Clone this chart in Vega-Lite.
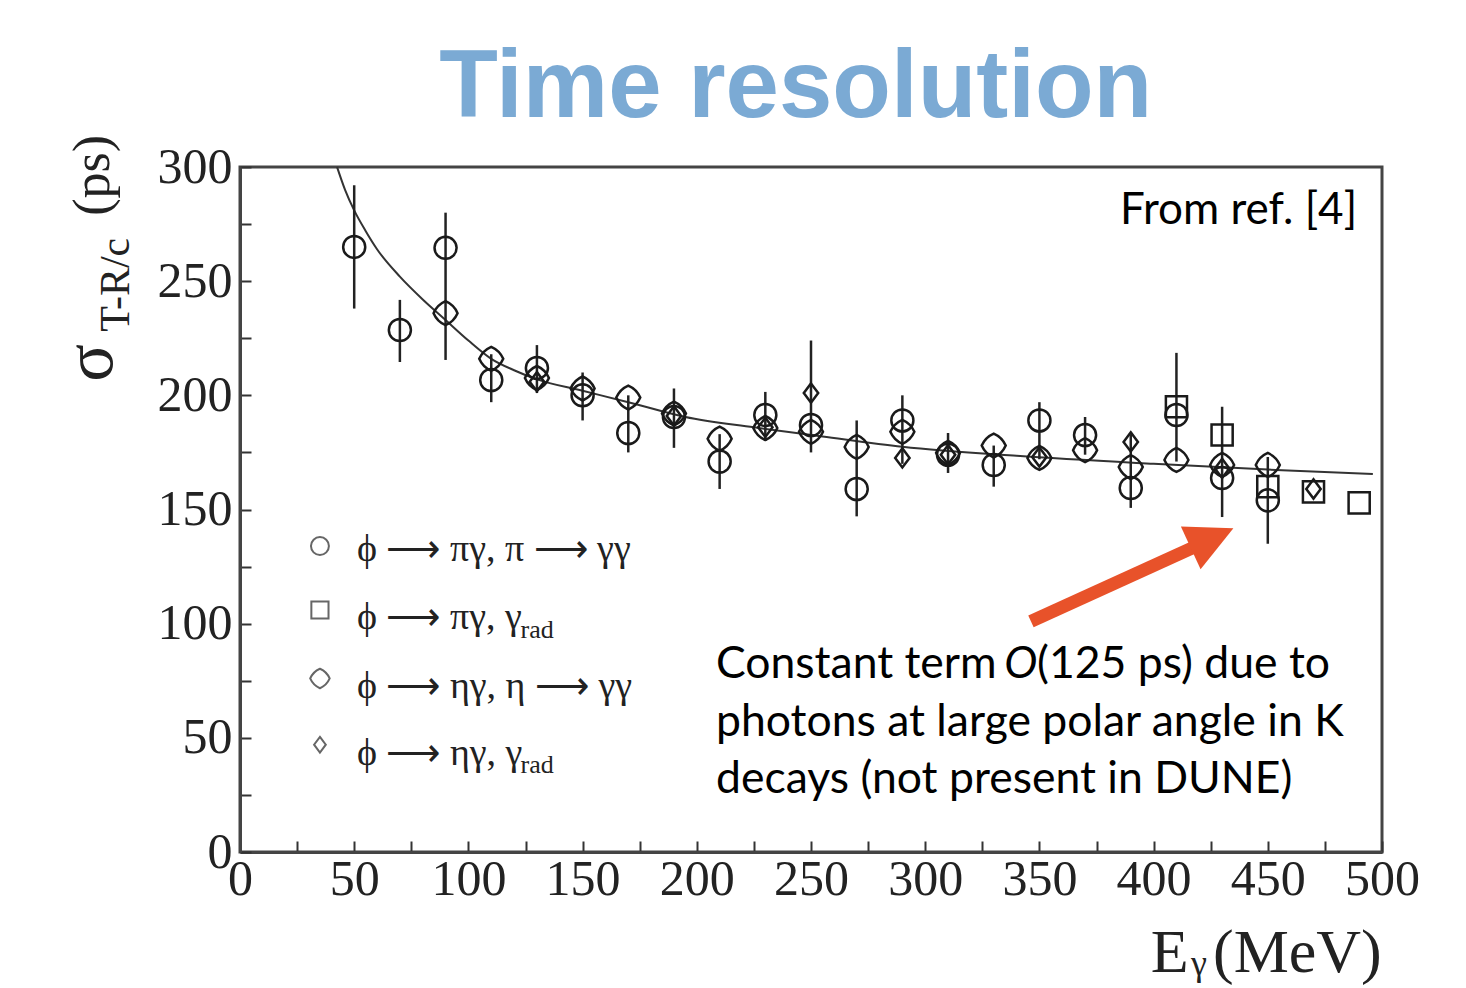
{
  "$schema": "https://vega.github.io/schema/vega-lite/v6.json",
  "width": 1142,
  "height": 685,
  "autosize": {"type": "none"},
  "padding": {"left": 240, "top": 167, "right": 84, "bottom": 136},
  "background": "white",
  "datasets": {
    "one": [{}],
    "pts": [
      {"series": "A", "E": 50, "sigma": 265},
      {"series": "A", "E": 70, "sigma": 228.6},
      {"series": "A", "E": 90, "sigma": 264.6},
      {"series": "A", "E": 110, "sigma": 206.7},
      {"series": "A", "E": 130, "sigma": 212},
      {"series": "A", "E": 150, "sigma": 200},
      {"series": "A", "E": 170, "sigma": 183.5},
      {"series": "A", "E": 190, "sigma": 190.5},
      {"series": "A", "E": 210, "sigma": 171},
      {"series": "A", "E": 230, "sigma": 191.4},
      {"series": "A", "E": 250, "sigma": 187},
      {"series": "A", "E": 270, "sigma": 159},
      {"series": "A", "E": 290, "sigma": 189},
      {"series": "A", "E": 310, "sigma": 174},
      {"series": "A", "E": 330, "sigma": 169.5},
      {"series": "A", "E": 350, "sigma": 189},
      {"series": "A", "E": 370, "sigma": 182.6},
      {"series": "A", "E": 390, "sigma": 159.4},
      {"series": "A", "E": 410, "sigma": 191.4},
      {"series": "A", "E": 430, "sigma": 163.8},
      {"series": "A", "E": 450, "sigma": 154},
      {"series": "B", "E": 410, "sigma": 195},
      {"series": "B", "E": 430, "sigma": 182.6},
      {"series": "B", "E": 450, "sigma": 160},
      {"series": "B", "E": 470, "sigma": 157.7},
      {"series": "B", "E": 490, "sigma": 152.9},
      {"series": "C", "E": 90, "sigma": 236},
      {"series": "C", "E": 110, "sigma": 216},
      {"series": "C", "E": 130, "sigma": 207.6},
      {"series": "C", "E": 150, "sigma": 203},
      {"series": "C", "E": 170, "sigma": 199},
      {"series": "C", "E": 190, "sigma": 192},
      {"series": "C", "E": 210, "sigma": 181},
      {"series": "C", "E": 230, "sigma": 185.7},
      {"series": "C", "E": 250, "sigma": 184},
      {"series": "C", "E": 270, "sigma": 177.4},
      {"series": "C", "E": 290, "sigma": 184},
      {"series": "C", "E": 310, "sigma": 174.8},
      {"series": "C", "E": 330, "sigma": 178},
      {"series": "C", "E": 350, "sigma": 172.6},
      {"series": "C", "E": 370, "sigma": 176},
      {"series": "C", "E": 390, "sigma": 168.6},
      {"series": "C", "E": 410, "sigma": 171.7},
      {"series": "C", "E": 430, "sigma": 169.5},
      {"series": "C", "E": 450, "sigma": 169.5},
      {"series": "D", "E": 130, "sigma": 206},
      {"series": "D", "E": 190, "sigma": 191},
      {"series": "D", "E": 230, "sigma": 186},
      {"series": "D", "E": 250, "sigma": 201},
      {"series": "D", "E": 290, "sigma": 172.6},
      {"series": "D", "E": 310, "sigma": 174},
      {"series": "D", "E": 350, "sigma": 173},
      {"series": "D", "E": 390, "sigma": 179.6},
      {"series": "D", "E": 430, "sigma": 168},
      {"series": "D", "E": 470, "sigma": 159}
    ],
    "err": [
      {"E": 50, "lo": 238, "hi": 292},
      {"E": 70, "lo": 214.6, "hi": 241.8},
      {"E": 90, "lo": 215.5, "hi": 280},
      {"E": 110, "lo": 197, "hi": 218},
      {"E": 130, "lo": 201, "hi": 222},
      {"E": 150, "lo": 189, "hi": 210},
      {"E": 170, "lo": 175, "hi": 200},
      {"E": 190, "lo": 177, "hi": 203},
      {"E": 210, "lo": 159, "hi": 183},
      {"E": 230, "lo": 180, "hi": 201.5},
      {"E": 250, "lo": 175, "hi": 224},
      {"E": 270, "lo": 147, "hi": 189},
      {"E": 290, "lo": 170, "hi": 200},
      {"E": 310, "lo": 166, "hi": 183.5},
      {"E": 330, "lo": 160, "hi": 178},
      {"E": 350, "lo": 172, "hi": 197},
      {"E": 370, "lo": 174, "hi": 190.5},
      {"E": 390, "lo": 150.7, "hi": 183},
      {"E": 410, "lo": 171, "hi": 218.6},
      {"E": 430, "lo": 146.7, "hi": 195},
      {"E": 450, "lo": 135, "hi": 173}
    ],
    "fit": [
      {"E": 42.5, "sigma": 300},
      {"E": 46, "sigma": 290},
      {"E": 50, "sigma": 281},
      {"E": 55, "sigma": 272},
      {"E": 60, "sigma": 264},
      {"E": 70, "sigma": 252},
      {"E": 80, "sigma": 242},
      {"E": 90, "sigma": 233},
      {"E": 100, "sigma": 224},
      {"E": 110, "sigma": 216},
      {"E": 120, "sigma": 211},
      {"E": 130, "sigma": 207},
      {"E": 150, "sigma": 202},
      {"E": 170, "sigma": 197},
      {"E": 195, "sigma": 190.5},
      {"E": 225, "sigma": 186},
      {"E": 255, "sigma": 182},
      {"E": 290, "sigma": 177.5},
      {"E": 340, "sigma": 173.5},
      {"E": 400, "sigma": 170},
      {"E": 450, "sigma": 167.5},
      {"E": 496, "sigma": 165.6}
    ]
  },
  "layer": [
    {
      "data": {"name": "fit"},
      "mark": {"type": "line", "color": "#333333", "strokeWidth": 2, "interpolate": "monotone"},
      "encoding": {
        "x": {
          "field": "E", "type": "quantitative",
          "scale": {"domain": [0, 500], "nice": false, "zero": false},
          "axis": {
            "title": null,
            "values": [0,25,50,75,100,125,150,175,200,225,250,275,300,325,350,375,400,425,450,475,500],
            "labelExpr": "datum.value % 50 === 0 ? datum.label : ''",
            "labelFlush": false,
            "labelOverlap": false,
            "labelPadding": 13,
            "tickSize": -11,
            "encode": {"ticks": {"update": {"y2": {"signal": "datum.value % 50 === 0 ? -11 : -6"}}}}
          }
        },
        "y": {
          "field": "sigma", "type": "quantitative",
          "scale": {"domain": [0, 300], "nice": false, "zero": false},
          "axis": {
            "title": null,
            "values": [0,25,50,75,100,125,150,175,200,225,250,275,300],
            "labelExpr": "datum.value % 50 === 0 ? datum.label : ''",
            "labelFlush": false,
            "labelOverlap": false,
            "labelPadding": 19,
            "tickSize": -11,
            "encode": {"ticks": {"update": {"x2": {"signal": "datum.value % 50 === 0 ? 11 : 6"}}}}
          }
        }
      }
    },
    {
      "data": {"name": "err"},
      "mark": {"type": "rule", "color": "#222222", "strokeWidth": 2.5},
      "encoding": {
        "x": {"field": "E", "type": "quantitative"},
        "y": {"field": "lo", "type": "quantitative"},
        "y2": {"field": "hi"}
      }
    },
    {
      "data": {"name": "pts"},
      "mark": {"type": "point", "filled": false, "color": "#1a1a1a", "strokeWidth": 2.5, "opacity": 1, "size": 576},
      "encoding": {
        "x": {"field": "E", "type": "quantitative"},
        "y": {"field": "sigma", "type": "quantitative"},
        "shape": {
          "field": "series", "type": "nominal", "legend": null,
          "scale": {
            "domain": ["A", "B", "C", "D"],
            "range": [
              "M0.92,0 A0.92,0.92 0 1,1 -0.92,0 A0.92,0.92 0 1,1 0.92,0 Z",
              "M-0.88,-0.88 L0.88,-0.88 L0.88,0.88 L-0.88,0.88 Z",
              "M0,-1 Q0.7,-0.7 1,0 Q0.7,0.7 0,1 Q-0.7,0.7 -1,0 Q-0.7,-0.7 0,-1 Z",
              "M0,-0.8 L0.6,0 L0,0.8 L-0.6,0 Z"
            ]
          }
        }
      }
    },
    {
      "data": {"name": "one"},
      "layer": [
        {
          "mark": {"type": "text", "font": "Liberation Sans", "fontWeight": "bold", "fontSize": 96, "color": "#7BAAD4", "align": "center", "baseline": "alphabetic"},
          "encoding": {
            "x": {"datum": 243.3, "type": "quantitative"},
            "y": {"datum": 322, "type": "quantitative"},
            "text": {"value": "Time resolution"}
          }
        },
        {
          "mark": {"type": "point", "filled": false, "color": "#666666", "strokeWidth": 2, "opacity": 1, "size": 380},
          "encoding": {
            "x": {"datum": 35.0, "type": "quantitative"},
            "y": {"datum": 134.0, "type": "quantitative"},
            "shape": {"value": "M0.92,0 A0.92,0.92 0 1,1 -0.92,0 A0.92,0.92 0 1,1 0.92,0 Z"}
          }
        },
        {
          "mark": {"type": "point", "filled": false, "color": "#666666", "strokeWidth": 2, "opacity": 1, "size": 380},
          "encoding": {
            "x": {"datum": 35.0, "type": "quantitative"},
            "y": {"datum": 106.0, "type": "quantitative"},
            "shape": {"value": "M-0.88,-0.88 L0.88,-0.88 L0.88,0.88 L-0.88,0.88 Z"}
          }
        },
        {
          "mark": {"type": "point", "filled": false, "color": "#666666", "strokeWidth": 2, "opacity": 1, "size": 380},
          "encoding": {
            "x": {"datum": 35.0, "type": "quantitative"},
            "y": {"datum": 76.0, "type": "quantitative"},
            "shape": {"value": "M0,-1 Q0.7,-0.7 1,0 Q0.7,0.7 0,1 Q-0.7,0.7 -1,0 Q-0.7,-0.7 0,-1 Z"}
          }
        },
        {
          "mark": {"type": "point", "filled": false, "color": "#666666", "strokeWidth": 2, "opacity": 1, "size": 380},
          "encoding": {
            "x": {"datum": 35.0, "type": "quantitative"},
            "y": {"datum": 47.0, "type": "quantitative"},
            "shape": {"value": "M0,-0.8 L0.6,0 L0,0.8 L-0.6,0 Z"}
          }
        },
        {
          "mark": {"type": "text", "font": "Liberation Serif", "fontSize": 38, "color": "#222222", "align": "left", "baseline": "alphabetic"},
          "encoding": {
            "x": {"datum": 51.2, "type": "quantitative"},
            "y": {"datum": 127.5, "type": "quantitative"},
            "text": {"value": "ϕ ⟶ πγ, π ⟶ γγ"}
          }
        },
        {
          "mark": {"type": "text", "font": "Liberation Serif", "fontSize": 38, "color": "#222222", "align": "left", "baseline": "alphabetic"},
          "encoding": {
            "x": {"datum": 51.2, "type": "quantitative"},
            "y": {"datum": 97.5, "type": "quantitative"},
            "text": {"value": "ϕ ⟶ πγ, γ"}
          }
        },
        {
          "mark": {"type": "text", "font": "Liberation Serif", "fontSize": 26, "color": "#222222", "align": "left", "baseline": "alphabetic"},
          "encoding": {
            "x": {"datum": 122.8, "type": "quantitative"},
            "y": {"datum": 93.7, "type": "quantitative"},
            "text": {"value": "rad"}
          }
        },
        {
          "mark": {"type": "text", "font": "Liberation Serif", "fontSize": 38, "color": "#222222", "align": "left", "baseline": "alphabetic"},
          "encoding": {
            "x": {"datum": 51.2, "type": "quantitative"},
            "y": {"datum": 67.5, "type": "quantitative"},
            "text": {"value": "ϕ ⟶ ηγ, η ⟶ γγ"}
          }
        },
        {
          "mark": {"type": "text", "font": "Liberation Serif", "fontSize": 38, "color": "#222222", "align": "left", "baseline": "alphabetic"},
          "encoding": {
            "x": {"datum": 51.2, "type": "quantitative"},
            "y": {"datum": 38.2, "type": "quantitative"},
            "text": {"value": "ϕ ⟶ ηγ, γ"}
          }
        },
        {
          "mark": {"type": "text", "font": "Liberation Serif", "fontSize": 26, "color": "#222222", "align": "left", "baseline": "alphabetic"},
          "encoding": {
            "x": {"datum": 122.8, "type": "quantitative"},
            "y": {"datum": 34.4, "type": "quantitative"},
            "text": {"value": "rad"}
          }
        },
        {
          "mark": {"type": "text", "font": "Lato", "fontSize": 44, "color": "#000000", "align": "right", "baseline": "alphabetic"},
          "encoding": {
            "x": {"datum": 489.1, "type": "quantitative"},
            "y": {"datum": 275.1, "type": "quantitative"},
            "text": {"value": "From ref. [4]"}
          }
        },
        {
          "mark": {"type": "text", "font": "Lato", "fontSize": 44.5, "color": "#000000", "align": "left", "baseline": "alphabetic"},
          "encoding": {
            "x": {"datum": 208.4, "type": "quantitative"},
            "y": {"datum": 76.2, "type": "quantitative"},
            "text": {"value": "Constant term"}
          }
        },
        {
          "mark": {"type": "text", "font": "Lato", "fontSize": 44.5, "fontStyle": "italic", "color": "#000000", "align": "left", "baseline": "alphabetic"},
          "encoding": {
            "x": {"datum": 334.6, "type": "quantitative"},
            "y": {"datum": 76.2, "type": "quantitative"},
            "text": {"value": "O"}
          }
        },
        {
          "mark": {"type": "text", "font": "Lato", "fontSize": 44.5, "color": "#000000", "align": "left", "baseline": "alphabetic"},
          "encoding": {
            "x": {"datum": 349.0, "type": "quantitative"},
            "y": {"datum": 76.2, "type": "quantitative"},
            "text": {"value": "(125 ps) due to"}
          }
        },
        {
          "mark": {"type": "text", "font": "Lato", "fontSize": 44.5, "color": "#000000", "align": "left", "baseline": "alphabetic"},
          "encoding": {
            "x": {"datum": 208.4, "type": "quantitative"},
            "y": {"datum": 50.8, "type": "quantitative"},
            "text": {"value": "photons at large polar angle in K"}
          }
        },
        {
          "mark": {"type": "text", "font": "Lato", "fontSize": 44.5, "color": "#000000", "align": "left", "baseline": "alphabetic"},
          "encoding": {
            "x": {"datum": 208.4, "type": "quantitative"},
            "y": {"datum": 25.8, "type": "quantitative"},
            "text": {"value": "decays (not present in DUNE)"}
          }
        },
        {
          "mark": {"type": "rule", "color": "#E8522A", "strokeWidth": 13, "strokeCap": "butt"},
          "encoding": {
            "x": {"datum": 346.3, "type": "quantitative"},
            "y": {"datum": 101.0, "type": "quantitative"},
            "x2": {"datum": 417.5},
            "y2": {"datum": 133.4}
          }
        },
        {
          "mark": {"type": "point", "filled": true, "color": "#E8522A", "opacity": 1, "size": 2209, "angle": -24.8, "strokeWidth": 0},
          "encoding": {
            "x": {"datum": 425.6, "type": "quantitative"},
            "y": {"datum": 137.5, "type": "quantitative"},
            "shape": {"value": "M-1,-1 L1,0 L-1,1 Z"}
          }
        },
        {
          "mark": {"type": "text", "font": "Liberation Serif", "fontSize": 70, "color": "#222222", "align": "left", "baseline": "alphabetic", "angle": 270},
          "encoding": {
            "x": {"datum": -56.0, "type": "quantitative"},
            "y": {"datum": 205.9, "type": "quantitative"},
            "text": {"value": "σ"}
          }
        },
        {
          "mark": {"type": "text", "font": "Liberation Serif", "fontSize": 42, "color": "#222222", "align": "left", "baseline": "alphabetic", "angle": 270},
          "encoding": {
            "x": {"datum": -48.6, "type": "quantitative"},
            "y": {"datum": 227.8, "type": "quantitative"},
            "text": {"value": "T-R/c"}
          }
        },
        {
          "mark": {"type": "text", "font": "Liberation Serif", "fontSize": 52, "color": "#222222", "align": "left", "baseline": "alphabetic", "angle": 270},
          "encoding": {
            "x": {"datum": -57.4, "type": "quantitative"},
            "y": {"datum": 278.6, "type": "quantitative"},
            "text": {"value": "(ps)"}
          }
        },
        {
          "mark": {"type": "text", "font": "Liberation Serif", "fontSize": 62, "color": "#222222", "align": "left", "baseline": "alphabetic"},
          "encoding": {
            "x": {"datum": 398.8, "type": "quantitative"},
            "y": {"datum": -52.6, "type": "quantitative"},
            "text": {"value": "E"}
          }
        },
        {
          "mark": {"type": "text", "font": "Liberation Serif", "fontSize": 36, "color": "#222222", "align": "left", "baseline": "alphabetic"},
          "encoding": {
            "x": {"datum": 416.4, "type": "quantitative"},
            "y": {"datum": -53.9, "type": "quantitative"},
            "text": {"value": "γ"}
          }
        },
        {
          "mark": {"type": "text", "font": "Liberation Serif", "fontSize": 62, "color": "#222222", "align": "left", "baseline": "alphabetic"},
          "encoding": {
            "x": {"datum": 426.0, "type": "quantitative"},
            "y": {"datum": -52.6, "type": "quantitative"},
            "text": {"value": "(MeV)"}
          }
        }
      ]
    }
  ],
  "config": {
    "view": {"stroke": "#444444", "strokeWidth": 3},
    "axis": {
      "grid": false,
      "domainColor": "#444444",
      "domainWidth": 3,
      "tickColor": "#333333",
      "tickWidth": 2,
      "labelFont": "Liberation Serif",
      "labelFontSize": 50,
      "labelColor": "#222222"
    }
  }
}
